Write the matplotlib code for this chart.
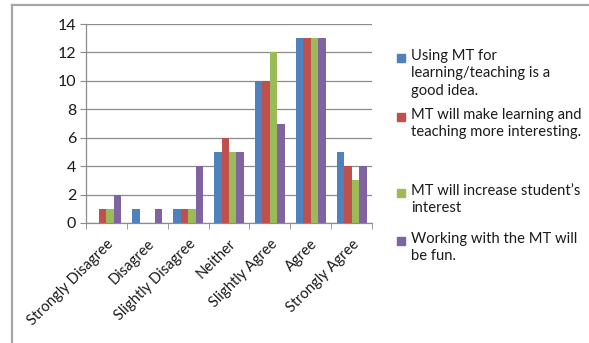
import matplotlib

matplotlib.use("Agg")
import matplotlib.pyplot as plt
import numpy as np
from matplotlib.lines import Line2D
from matplotlib.patches import Rectangle

plt.rcParams["font.family"] = ["Lato", "DejaVu Sans"]

categories = ["Strongly Disagree", "Disagree", "Slightly Disagree", "Neither",
              "Slightly Agree", "Agree", "Strongly Agree"]
series_names = [
    "Using MT for\nlearning/teaching is a\ngood idea.",
    "MT will make learning and\nteaching more interesting.",
    "MT will increase student\u2019s\ninterest",
    "Working with the MT will\nbe fun.",
]
good_idea = [0, 1, 1, 5, 10, 13, 5]
more_interesting = [1, 0, 1, 6, 10, 13, 4]
student_interest = [1, 0, 1, 5, 12, 13, 3]
be_fun = [2, 1, 4, 5, 7, 13, 4]
colours = ["#4F81BD", "#C0504D", "#9BBB59", "#8064A2"]

W, H = 589, 343
TXT = "#1a1a1a"
fig = plt.figure(figsize=(W / 100, H / 100), dpi=100)
# outer chart frame: only the top and left edges show in the original crop
fx, fy = 12 / W, 1 - 5 / H
fig.add_artist(Line2D([fx, 1.05], [fy, fy], transform=fig.transFigure, color="#a6a6a6", lw=1.6))
fig.add_artist(Line2D([fx, fx], [-0.05, fy], transform=fig.transFigure, color="#a6a6a6", lw=1.6))

ax = fig.add_axes([86 / W, 1 - 223 / H, (372 - 86) / W, (223 - 24) / H])
x = np.arange(len(categories))
bw = 0.183
for i, (vals, c) in enumerate(zip([good_idea, more_interesting, student_interest, be_fun], colours)):
    ax.bar(x + (i - 1.5) * bw, vals, width=bw, color=c, edgecolor="none", zorder=3)

ax.set_xlim(-0.5, len(categories) - 0.5)
ax.set_ylim(0, 14)
ax.set_yticks(range(0, 15, 2))
ax.yaxis.grid(True, color="#8c8c8c", lw=0.9, zorder=0)
ax.tick_params(axis="y", length=4, color="#8c8c8c", labelsize=11.5, labelcolor=TXT, pad=3)

ax.set_xticks(x)
ax.set_xticklabels(categories, rotation=45, ha="right", rotation_mode="anchor",
                   fontsize=10.5, color=TXT)
ax.tick_params(axis="x", which="major", length=0, pad=10)
ax.set_xticks(np.arange(-0.5, len(categories)), minor=True)
ax.tick_params(axis="x", which="minor", length=4, color="#8c8c8c")

for s in ["top", "right"]:
    ax.spines[s].set_visible(False)
for s in ["left", "bottom"]:
    ax.spines[s].set_color("#8c8c8c")
    ax.spines[s].set_linewidth(0.9)

# legend, placed like the original
entry_top = [58, 117, 193, 241]
for name, c, yt in zip(series_names, colours, entry_top):
    fig.patches.append(Rectangle((397 / W, 1 - (yt + 4) / H), 8 / W, 8 / H,
                                 transform=fig.transFigure, color=c))
    fig.text(411 / W, 1 - (yt - 9) / H, name, fontsize=10.6, color=TXT,
             va="top", ha="left", linespacing=1.3)

fig.savefig("out.png", dpi=100)
